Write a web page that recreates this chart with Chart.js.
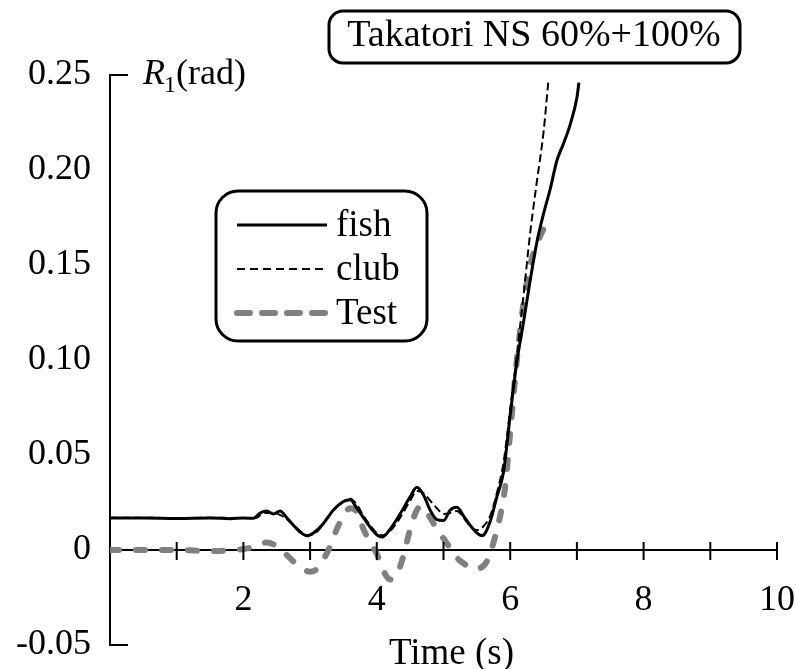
<!DOCTYPE html>
<html>
<head>
<meta charset="utf-8">
<script src="https://cdn.jsdelivr.net/npm/chart.js@4"></script>
<style>
  html, body { margin: 0; padding: 0; background: #fff; }
</style>
</head>
<body>
<canvas id="chart1" width="796" height="669"></canvas>
<script>
// Time (s) and R1 (rad)
const fishT = [0, 0.5, 1.0, 1.5, 1.8, 2.0, 2.15, 2.25, 2.35, 2.45, 2.55, 2.65, 2.75, 2.85, 2.95, 3.05, 3.2, 3.35, 3.5, 3.6, 3.7, 3.8, 3.9, 4.0, 4.08, 4.2, 4.35, 4.5, 4.6, 4.7, 4.8, 4.9, 5.0, 5.1, 5.2, 5.3, 5.4, 5.5, 5.58, 5.7, 5.8, 5.9, 6.0, 6.1, 6.2, 6.3, 6.4, 6.5, 6.6, 6.7, 6.8, 6.9, 7.0, 7.03];
const fishR = [0.0168, 0.0168, 0.0166, 0.0168, 0.0165, 0.0168, 0.0167, 0.0195, 0.0205, 0.019, 0.0205, 0.017, 0.013, 0.0095, 0.0075, 0.009, 0.014, 0.021, 0.0255, 0.0265, 0.022, 0.017, 0.012, 0.008, 0.0068, 0.011, 0.019, 0.028, 0.033, 0.029, 0.021, 0.016, 0.0155, 0.021, 0.0225, 0.018, 0.013, 0.009, 0.0075, 0.015, 0.028, 0.041, 0.071, 0.099, 0.12, 0.142, 0.162, 0.177, 0.19, 0.205, 0.214, 0.224, 0.238, 0.246];

const clubT = [0, 0.5, 1.0, 1.5, 2.0, 2.2, 2.3, 2.45, 2.6, 2.8, 2.95, 3.1, 3.3, 3.5, 3.6, 3.7, 3.8, 3.9, 4.0, 4.1, 4.2, 4.35, 4.5, 4.6, 4.7, 4.8, 4.9, 5.0, 5.1, 5.2, 5.3, 5.4, 5.5, 5.6, 5.7, 5.8, 5.9, 6.0, 6.1, 6.2, 6.3, 6.4, 6.5, 6.57];
const clubR = [0.017, 0.017, 0.0168, 0.017, 0.0168, 0.017, 0.0195, 0.0195, 0.0175, 0.0115, 0.0078, 0.0095, 0.019, 0.0255, 0.027, 0.024, 0.018, 0.013, 0.009, 0.0078, 0.01, 0.017, 0.026, 0.031, 0.03, 0.026, 0.022, 0.019, 0.0195, 0.0205, 0.017, 0.0125, 0.0105, 0.0125, 0.018, 0.03, 0.046, 0.074, 0.103, 0.134, 0.167, 0.194, 0.22, 0.246];

const testT = [0, 0.5, 1.0, 1.5, 2.0, 2.2, 2.35, 2.45, 2.6, 2.75, 2.9, 3.0, 3.1, 3.2, 3.3, 3.4, 3.5, 3.6, 3.7, 3.8, 3.9, 4.0, 4.1, 4.2, 4.3, 4.4, 4.5, 4.6, 4.68, 4.8, 4.9, 5.0, 5.1, 5.2, 5.3, 5.45, 5.55, 5.65, 5.75, 5.85, 5.92, 6.0, 6.1, 6.2, 6.3, 6.4, 6.5, 6.6];
const testR = [0.0, 0.0, 0.0, -0.0005, 0.0005, 0.002, 0.004, 0.003, -0.001, -0.006, -0.010, -0.0115, -0.010, -0.005, 0.002, 0.011, 0.018, 0.022, 0.020, 0.011, 0.004, -0.002, -0.011, -0.0155, -0.013, -0.003, 0.011, 0.021, 0.023, 0.017, 0.011, 0.006, 0.001, -0.004, -0.007, -0.010, -0.0095, -0.006, 0.004, 0.018, 0.032, 0.062, 0.1, 0.13, 0.15, 0.161, 0.169, 0.176];

const seriesNames = ['fish', 'club', 'Test'];
const yTicks = [-0.05, 0, 0.05, 0.10, 0.15, 0.20, 0.25];
const xLabelled = [2, 4, 6, 8, 10];
const titleText = 'Takatori NS 60%+100%';

const FONT = 'Liberation Serif';

function pts(ts, rs) {
    return ts.map((t, i) => ({ x: t, y: rs[i] }));
}

function roundRect(ctx, x, y, w, h, r) {
    ctx.beginPath();
    ctx.moveTo(x + r, y);
    ctx.arcTo(x + w, y, x + w, y + h, r);
    ctx.arcTo(x + w, y + h, x, y + h, r);
    ctx.arcTo(x, y + h, x, y, r);
    ctx.arcTo(x, y, x + w, y, r);
    ctx.closePath();
}

function noPad(s) {
    s.paddingLeft = 0;
    s.paddingRight = 0;
    s.paddingTop = 0;
    s.paddingBottom = 0;
}

// axes ticks, labels, title box and legend
const decor = {
    id: 'decor',
    afterDraw(chart) {
        const { ctx, chartArea: a } = chart;
        const x = chart.scales.x, y = chart.scales.y;
        ctx.save();
        ctx.strokeStyle = '#000';
        ctx.fillStyle = '#000';
        ctx.lineWidth = 2;

        // x ticks cross the zero line
        const y0 = y.getPixelForValue(0);
        for (let t = 1; t <= 10; t++) {
            const px = x.getPixelForValue(t);
            ctx.beginPath();
            ctx.moveTo(px, y0 - 8);
            ctx.lineTo(px, y0 + 10);
            ctx.stroke();
        }
        // y end ticks point inwards
        [y.max, y.min].forEach(v => {
            const py = y.getPixelForValue(v);
            ctx.beginPath();
            ctx.moveTo(a.left, py);
            ctx.lineTo(a.left + 18, py);
            ctx.stroke();
        });

        // axis titles
        ctx.textBaseline = 'alphabetic';
        ctx.textAlign = 'left';
        let tx = a.left + 33;
        const ty = a.top + 9;
        ctx.font = 'italic 36px ' + FONT;
        ctx.fillText('R', tx, ty);
        tx += ctx.measureText('R').width - 1;
        ctx.font = '24px ' + FONT;
        ctx.fillText('1', tx, ty + 8);
        tx += ctx.measureText('1').width;
        ctx.font = '36px ' + FONT;
        ctx.fillText('(rad)', tx, ty);

        ctx.textAlign = 'center';
        ctx.font = '37px ' + FONT;
        ctx.fillText('Time (s)', (a.left + a.right) / 2 + 8, 664);

        // title box
        ctx.lineWidth = 3;
        roundRect(ctx, 329, 11, 411, 52, 14);
        ctx.fillStyle = '#fff';
        ctx.fill();
        ctx.stroke();
        ctx.fillStyle = '#000';
        ctx.font = '38px ' + FONT;
        ctx.fillText(titleText, 534, 46);

        // legend box
        roundRect(ctx, 216, 191, 211, 150, 22);
        ctx.fillStyle = '#fff';
        ctx.fill();
        ctx.stroke();
        const rows = [225, 269, 313];
        chart.data.datasets.forEach((ds, i) => {
            ctx.save();
            ctx.strokeStyle = ds.borderColor;
            ctx.lineWidth = ds.borderWidth;
            ctx.setLineDash(ds.legendDash || []);
            ctx.lineCap = ds.borderCapStyle || 'butt';
            ctx.beginPath();
            ctx.moveTo(237, rows[i]);
            ctx.lineTo(327, rows[i]);
            ctx.stroke();
            ctx.restore();
            ctx.fillStyle = '#000';
            ctx.textAlign = 'left';
            ctx.font = '37px ' + FONT;
            ctx.fillText(ds.label, 336, rows[i] + 11);
        });
        ctx.restore();
    }
};

const data = {
    datasets: [
        {
            label: seriesNames[0],
            data: pts(fishT, fishR),
            borderColor: '#000',
            borderWidth: 3,
            pointRadius: 0,
            cubicInterpolationMode: 'monotone'
        },
        {
            label: seriesNames[1],
            data: pts(clubT, clubR),
            borderColor: '#000',
            borderWidth: 2,
            borderDash: [8, 4],
            legendDash: [8, 5],
            pointRadius: 0,
            cubicInterpolationMode: 'monotone'
        },
        {
            label: seriesNames[2],
            data: pts(testT, testR),
            borderColor: '#808080',
            borderWidth: 6,
            borderDash: [9, 17],
            legendDash: [13, 12],
            borderCapStyle: 'round',
            pointRadius: 0,
            cubicInterpolationMode: 'monotone'
        }
    ]
};

const options = {
    responsive: false,
    animation: false,
    layout: { padding: { left: 0, right: 19, top: 75, bottom: 24 } },
    plugins: {
        legend: { display: false },
        tooltip: { enabled: false }
    },
    scales: {
        x: {
            type: 'linear',
            min: 0,
            max: 10,
            position: { y: 0 },
            grid: { display: false, drawTicks: false },
            border: { display: true, color: '#000', width: 2 },
            afterFit: noPad,
            ticks: {
                stepSize: 1,
                autoSkip: false,
                maxRotation: 0,
                padding: 29,
                color: '#000',
                font: { family: FONT, size: 36 },
                callback: v => xLabelled.includes(v) ? String(v) : ''
            }
        },
        y: {
            min: yTicks[0],
            max: yTicks[yTicks.length - 1],
            grid: { display: false, drawTicks: false },
            border: { display: true, color: '#000', width: 2 },
            afterFit: s => { s.width = 110; noPad(s); },
            afterBuildTicks: s => { s.ticks = yTicks.map(v => ({ value: v })); },
            ticks: {
                padding: 19,
                color: '#000',
                font: { family: FONT, size: 36 },
                callback: v => Math.abs(v) < 1e-9 ? '0' : v.toFixed(2)
            }
        }
    }
};

const ctx = document.getElementById('chart1').getContext('2d');
const myChart = new Chart(ctx, {
    type: 'line',
    data: data,
    options: options,
    plugins: [decor]
});
</script>
</body>
</html>
